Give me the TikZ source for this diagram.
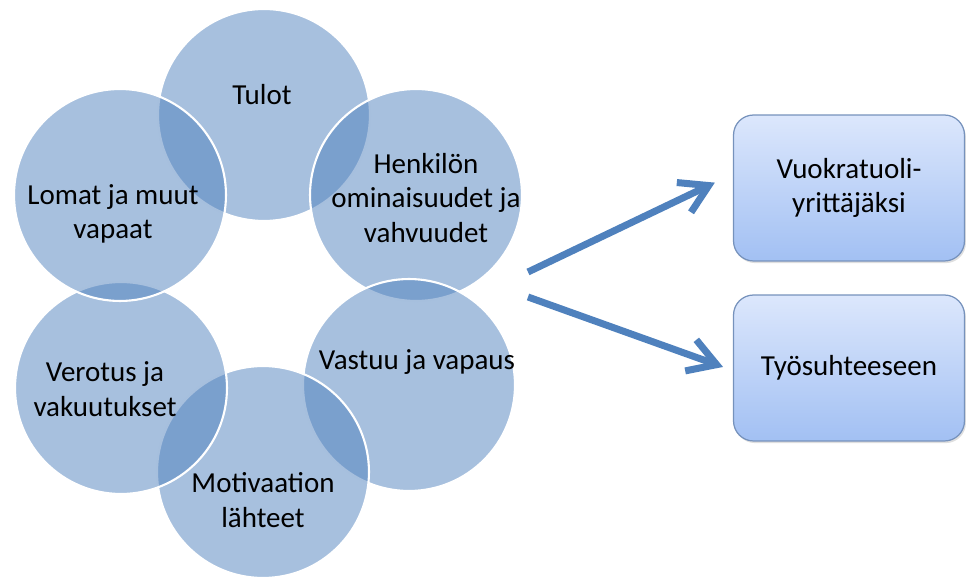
\documentclass[tikz,border=0pt]{standalone}
\usepackage{fontspec}
\setmainfont{Carlito}
\usetikzlibrary{arrows.meta,shadows}
\definecolor{ringblue}{RGB}{79,129,189}
\definecolor{boxtop}{RGB}{220,231,252}
\definecolor{boxbot}{RGB}{162,192,243}
\definecolor{boxline}{RGB}{118,146,188}
\tikzset{
  bubble/.style={circle,minimum size=4.24cm,fill=ringblue,fill opacity=0.5,draw=white,draw opacity=1,line width=1.2pt},
  lbl/.style={align=center,font=\fontsize{16.5}{19.6}\selectfont,text=black},
  outbox/.style={rounded corners=0.4cm,minimum width=4.62cm,minimum height=2.92cm,draw=boxline,line width=0.7pt,
    top color=boxtop,bottom color=boxbot,drop shadow={opacity=0.25,shadow xshift=0.8pt,shadow yshift=-1.2pt},
    align=center,font=\fontsize{16.5}{19.6}\selectfont},
  flow/.style={draw=ringblue,line width=0.14cm,-{Straight Barb[length=0.55cm,width=0.66cm]}}
}
\begin{document}
\begin{tikzpicture}[x=0.02cm,y=-0.02cm]
\useasboundingbox (0,0) rectangle (967,580);

% ring of circles
\node[bubble] (tulot) at (264,115) {};
\node[bubble] (henk) at (416,195) {};
\node[bubble] (vastuu) at (409,385) {};
\node[bubble] (motiv) at (263,472) {};
\node[bubble] (verotus) at (121,388) {};
\node[bubble] (lomat) at (120,195) {};

\node[lbl] (tulot-txt) at (262,95) {Tulot};
\node[lbl] (henk-txt) at (426,198) {Henkilön\\ominaisuudet ja\\vahvuudet};
\node[lbl] (vastuu-txt) at (417,362) {Vastuu ja vapaus};
\node[lbl] (motiv-txt) at (263,500) {Motivaation\\lähteet};
\node[lbl] (verotus-txt) at (105,389) {Verotus ja\\vakuutukset};
\node[lbl] (lomat-txt) at (113,214) {Lomat ja muut\\vapaat};

% outcomes
\node[outbox] (vuokra) at (849,188) {Vuokratuoli-\\yrittäjäksi};
\node[outbox] (tyo) at (849,368) {Työsuhteeseen};

\coordinate (src1) at (528,272);
\coordinate (src2) at (528,297);
\draw[flow,shorten >=0.4cm] (src1) -- ([yshift=0.28cm]vuokra.west);
\draw[flow,shorten >=0.21cm] (src2) -- ([yshift=-0.05cm]tyo.west);
\end{tikzpicture}
\end{document}
